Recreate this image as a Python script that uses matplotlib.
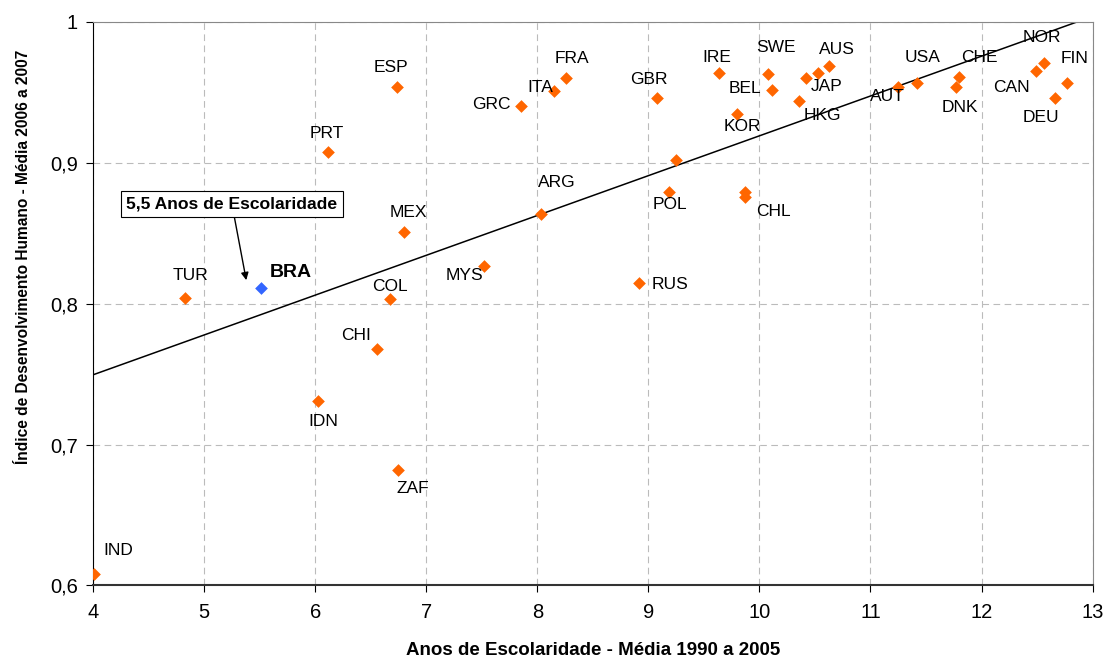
import numpy as np
import matplotlib
matplotlib.use("Agg")
import matplotlib.pyplot as plt

plt.rcParams['font.family'] = ['Liberation Sans', 'DejaVu Sans']

# dados: anos de escolaridade (x) e IDH (y)
paises = ['IND', 'TUR', 'PRT', 'ESP', 'MEX', 'COL', 'CHI', 'IDN', 'ZAF',
          'MYS', 'ARG', 'GRC', 'ITA', 'FRA', 'GBR', 'RUS', 'POL', '',
          'CHL', '', 'IRE', 'KOR', 'SWE', 'BEL', 'JAP', '', 'AUS', 'HKG',
          'AUT', 'USA', 'CHE', 'DNK', 'CAN', 'NOR', 'DEU', 'FIN']
escolaridade = [4.01, 4.83, 6.12, 6.74, 6.80, 6.67, 6.56, 6.03, 6.75,
                7.52, 8.03, 7.85, 8.15, 8.26, 9.08, 8.92, 9.19, 9.25,
                9.87, 9.87, 9.64, 9.80, 10.08, 10.11, 10.42, 10.53, 10.63, 10.36,
                11.25, 11.42, 11.80, 11.77, 12.49, 12.56, 12.66, 12.77]
idh = [0.608, 0.804, 0.908, 0.954, 0.851, 0.803, 0.768, 0.731, 0.682,
       0.827, 0.864, 0.940, 0.951, 0.960, 0.946, 0.815, 0.879, 0.902,
       0.879, 0.876, 0.964, 0.935, 0.963, 0.952, 0.960, 0.964, 0.969, 0.944,
       0.954, 0.957, 0.961, 0.954, 0.965, 0.971, 0.946, 0.957]

bra_x = 5.51
bra_y = 0.811

# linha de tendencia
tend_x = [4, 13]
tend_y = [0.7495, 1.004]

# posicao dos rotulos (deslocamento em pixels, y para cima)
desloc = {
    'IND': (9, 24, 'left'), 'TUR': (5, 23, 'center'), 'PRT': (-2, 18, 'center'),
    'ESP': (-6, 19, 'center'), 'MEX': (4, 19, 'center'), 'COL': (0, 13, 'center'),
    'CHI': (-21, 13, 'center'), 'IDN': (5, -21, 'center'), 'ZAF': (14, -19, 'center'),
    'MYS': (-20, -10, 'center'), 'ARG': (16, 31, 'center'), 'GRC': (-10, 2, 'right'),
    'ITA': (-14, 3, 'center'), 'FRA': (6, 20, 'center'), 'GBR': (-8, 19, 'center'),
    'RUS': (12, -2, 'left'), 'POL': (1, -12, 'center'), 'CHL': (28, -19, 'center'),
    'IRE': (-3, 15, 'center'), 'KOR': (5, -13, 'center'), 'SWE': (8, 27, 'center'),
    'BEL': (-27, 1, 'center'), 'JAP': (21, -8, 'center'), 'AUS': (8, 16, 'center'),
    'HKG': (23, -15, 'center'), 'AUT': (-11, -10, 'center'), 'USA': (5, 25, 'center'),
    'CHE': (20, 19, 'center'), 'DNK': (4, -21, 'center'), 'CAN': (-25, -16, 'center'),
    'NOR': (-2, 25, 'center'), 'DEU': (-14, -19, 'center'), 'FIN': (7, 24, 'center'),
}

fig, ax = plt.subplots(figsize=(11.07, 6.66), dpi=100)
fig.subplots_adjust(left=0.084, right=0.987, top=0.967, bottom=0.121)

ax.plot(tend_x, tend_y, color='black', lw=1.1, zorder=2)
ax.scatter(escolaridade, idh, marker='D', s=42, color='#ff6600', zorder=3, linewidths=0)
ax.scatter([bra_x], [bra_y], marker='D', s=42, color='#3366ff', zorder=3, linewidths=0)

for nome, xv, yv in zip(paises, escolaridade, idh):
    if nome == '':
        continue
    dx, dy, ha = desloc[nome]
    ax.annotate(nome, (xv, yv), xytext=(dx, dy), textcoords='offset pixels',
                ha=ha, va='center', fontsize=12.5, zorder=4)

ax.annotate('BRA', (bra_x, bra_y), xytext=(9, 16), textcoords='offset pixels',
            ha='left', va='center', fontsize=14, fontweight='bold')
ax.annotate('5,5 Anos de Escolaridade', xy=(5.38, 0.8167),
            xytext=(5.25, 0.871), ha='center', va='center', fontsize=12.6,
            fontweight='bold',
            bbox=dict(boxstyle='square,pad=0.32', fc='white', ec='black', lw=0.8),
            arrowprops=dict(arrowstyle='-|>', color='black', lw=1, shrinkA=0, shrinkB=0,
                            mutation_scale=11))

ax.set_xlim(4, 13)
ax.set_ylim(0.6, 1.0)
ax.set_xticks(range(4, 14))
ax.set_yticks([0.6, 0.7, 0.8, 0.9, 1.0])
ax.set_yticklabels(['0,6', '0,7', '0,8', '0,9', '1'])
ax.tick_params(labelsize=14.5, direction='out', length=5, colors='black')
ax.tick_params(axis='x', pad=8)
ax.tick_params(axis='y', pad=6)
ax.grid(True, color='#bbbbbb', linestyle=(0, (6, 4)), lw=0.8)
ax.set_axisbelow(True)
for s in ['top', 'right']:
    ax.spines[s].set_color('#888888')
ax.spines['bottom'].set_color('#333333')
ax.spines['bottom'].set_linewidth(1.5)
ax.spines['left'].set_color('black')

ax.set_xlabel('Anos de Escolaridade - Média 1990 a 2005', fontsize=13.5,
              fontweight='bold', labelpad=14)
ax.set_ylabel('Índice de Desenvolvimento Humano - Média 2006 a 2007', fontsize=11.2,
              fontweight='bold', labelpad=10)
ax.yaxis.set_label_coords(-0.062, 0.583)

fig.savefig('out.png')
